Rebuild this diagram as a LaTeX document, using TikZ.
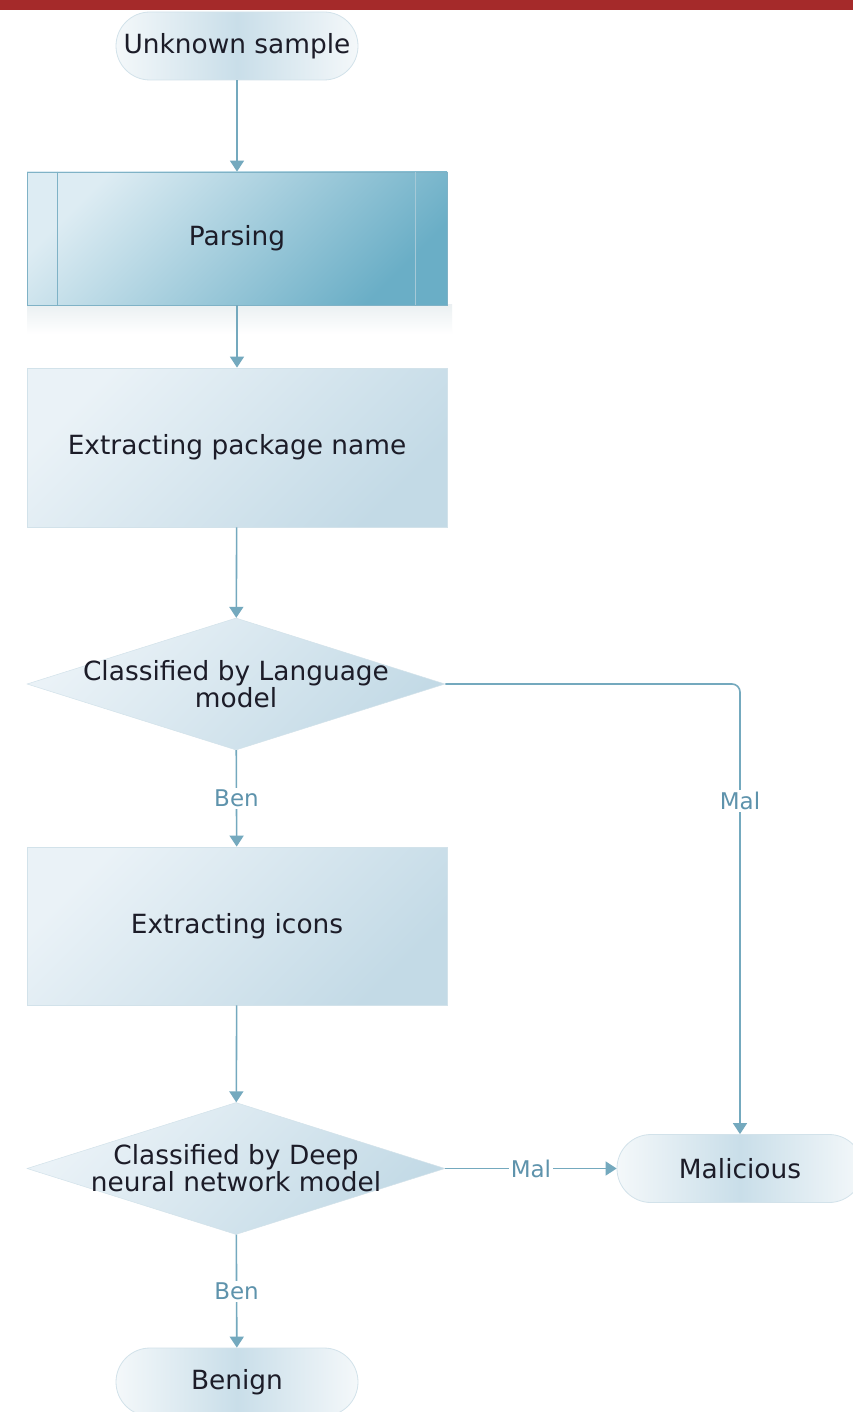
\documentclass[tikz,border=0pt]{standalone}
\usepackage{fontspec}
\setmainfont{DejaVu Sans}
\usetikzlibrary{arrows.meta,shapes.geometric}

\definecolor{linec}{HTML}{74A9BE}
\definecolor{labc}{HTML}{5E93AC}
\definecolor{txtc}{HTML}{1C1C28}
\definecolor{boxA}{HTML}{EAF2F7}
\definecolor{boxB}{HTML}{C3DAE6}
\definecolor{boxedge}{HTML}{D2E2EA}
\definecolor{parA}{HTML}{DDECF3}
\definecolor{parB}{HTML}{6AAEC6}
\definecolor{paredge}{HTML}{7FB2C6}
\definecolor{termA}{HTML}{F4F8FA}
\definecolor{termB}{HTML}{C9DEE9}
\definecolor{shadowc}{HTML}{EBF0F2}
\definecolor{barc}{HTML}{A52A2A}

\tikzset{
  txt/.style={text=txtc, font=\fontsize{26.4}{27}\selectfont, align=center},
  term/.style={txt, rectangle, rounded corners=34pt, minimum width=242pt,
    minimum height=68pt, draw=boxedge, line width=0.8pt,
    left color=termA, right color=termA, middle color=termB},
  proc/.style={txt, rectangle, minimum width=420pt, draw=boxedge, line width=0.8pt,
    top color=boxA, bottom color=boxB, shading angle=45},
  parsebox/.style={proc, draw=paredge, top color=parA, bottom color=parB, shading angle=45},
  dec/.style={diamond, inner sep=0pt, aspect=3.17, minimum width=418pt, minimum height=132pt,
    draw=boxedge, line width=0.5pt, top color=boxA, bottom color=boxB, shading angle=45},
  dectext/.style={txt},
  conn/.style={draw=linec, line width=1.6pt, -{Triangle[length=11pt,width=14pt]}},
  edgelab/.style={fill=white, inner sep=2pt, text=labc, font=\fontsize{23}{25}\selectfont},
}

\begin{document}
\begin{tikzpicture}[x=1pt,y=-1pt]
  \clip (0,0) rectangle (853,1412);
  \fill[white] (0,0) rectangle (853,1412);
  \fill[barc] (0,0) rectangle (853,10);

  % soft shadow under the parsing step
  \shade[top color=shadowc, bottom color=white] (27,305) rectangle (452,334);

  % nodes
  \node[term] (start) at (237,46) {Unknown sample};
  \node[parsebox, minimum height=133pt] (parse) at (237,238.5) {Parsing};
  \draw[paredge, line width=0.8pt] ([xshift=31pt]parse.north west) -- ([xshift=31pt]parse.south west);
  \draw[paredge!70!white, line width=0.6pt] ([xshift=-32pt]parse.north east) -- ([xshift=-32pt]parse.south east);
  \node[proc, minimum height=159pt] (pkg) at (237,447.5) {Extracting package name};
  \node[dec, label={[dectext]center:Classified by Language\\model}] (lang) at (236,684) {};
  \node[proc, minimum height=158pt] (icons) at (237,926) {Extracting icons};
  \node[dec, label={[dectext]center:Classified by Deep\\neural network model}] (dnn) at (236,1168.5) {};
  \node[term, minimum width=246pt] (mal) at (740,1168.5) {Malicious};
  \node[term] (ben) at (237,1382) {Benign};

  % connectors
  \draw[conn] (start) -- (parse);
  \draw[conn] (parse) -- (pkg);
  \draw[conn] (pkg) -- (lang);
  \draw[conn] (lang) -- node[edgelab] {Ben} (icons);
  \draw[conn, rounded corners=8pt] (lang.east) -| node[edgelab, pos=0.63] {Mal} (mal.north);
  \draw[conn] (icons) -- (dnn);
  \draw[conn] (dnn) -- node[edgelab] {Mal} (mal);
  \draw[conn] (dnn) -- node[edgelab] {Ben} (ben);
\end{tikzpicture}
\end{document}
